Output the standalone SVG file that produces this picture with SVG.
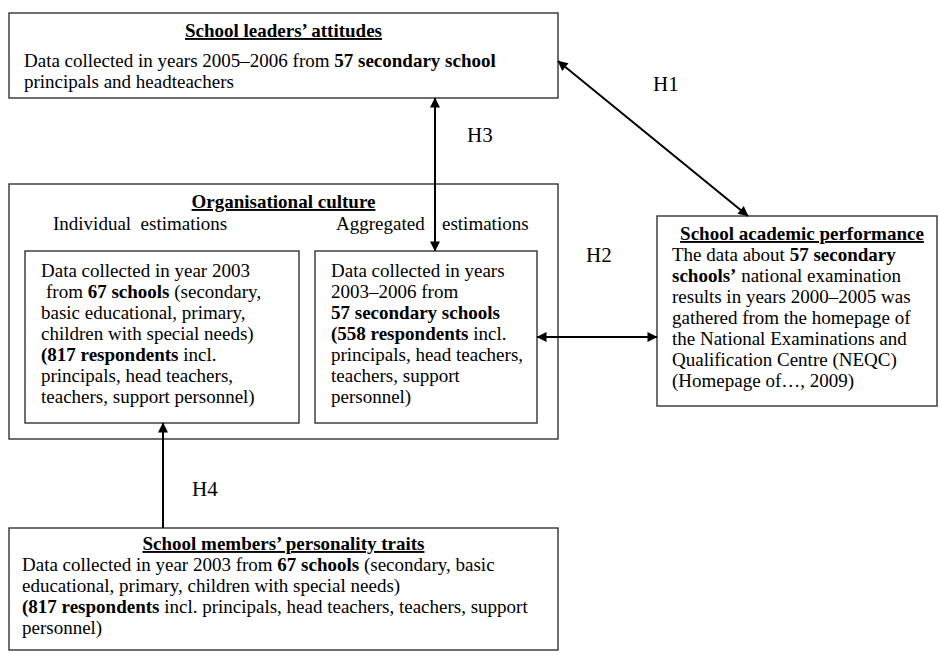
<svg xmlns="http://www.w3.org/2000/svg" width="938" height="655" viewBox="0 0 938 655">
  <style>
    .box { fill: #ffffff; stroke: #333333; stroke-width: 1.4; }
    .t { font-family: "Liberation Serif", "Times New Roman", serif; font-size: 19px; fill: #000000; }
    .ttl { font-weight: bold; text-decoration: underline; text-anchor: middle; }
    .b { font-weight: bold; }
    .h { font-family: "Liberation Serif", "Times New Roman", serif; font-size: 21px; fill: #000000; }
    .link { stroke: #000000; stroke-width: 2; fill: none; }
  </style>
  <defs>
    <marker id="ah" viewBox="0 0 10 10" refX="9.5" refY="5" markerWidth="11" markerHeight="10" orient="auto-start-reverse" markerUnits="userSpaceOnUse">
      <path d="M0,0 L10,5 L0,10 z" fill="#000000"/>
    </marker>
  </defs>

  <rect width="938" height="655" fill="#ffffff"/>

  <!-- School leaders' attitudes -->
  <g id="leaders">
    <rect class="box" x="9" y="13" width="549" height="85"/>
    <text class="t ttl" x="283.5" y="37">School leaders’ attitudes</text>
    <text class="t" x="24" y="67">Data collected in years 2005–2006 from <tspan class="b">57 secondary school</tspan></text>
    <text class="t" x="24" y="88">principals and headteachers</text>
  </g>

  <!-- Organisational culture (container) -->
  <g id="culture">
    <rect class="box" x="9" y="184" width="549" height="255"/>
    <text class="t ttl" x="283.5" y="208">Organisational culture</text>
    <text class="t" x="53" y="230" xml:space="preserve">Individual  estimations</text>
    <text class="t" x="336" y="230">Aggregated</text>
    <text class="t" x="442" y="230">estimations</text>
  </g>

  <!-- Individual estimations -->
  <g id="individual">
    <rect class="box" x="25" y="251" width="274" height="172"/>
    <text class="t" x="41" y="277">Data collected in year 2003</text>
    <text class="t" x="46" y="298">from <tspan class="b">67 schools</tspan> (secondary,</text>
    <text class="t" x="41" y="319">basic educational, primary,</text>
    <text class="t" x="41" y="340">children with special needs)</text>
    <text class="t" x="41" y="361"><tspan class="b">(817 respondents</tspan> incl.</text>
    <text class="t" x="41" y="382">principals, head teachers,</text>
    <text class="t" x="41" y="403">teachers, support personnel)</text>
  </g>

  <!-- Aggregated estimations -->
  <g id="aggregated">
    <rect class="box" x="315" y="251" width="222" height="172"/>
    <text class="t" x="331" y="277">Data collected in years</text>
    <text class="t" x="331" y="298">2003–2006 from</text>
    <text class="t b" x="331" y="319">57 secondary schools</text>
    <text class="t" x="331" y="340"><tspan class="b">(558 respondents</tspan> incl.</text>
    <text class="t" x="331" y="361">principals, head teachers,</text>
    <text class="t" x="331" y="382">teachers, support</text>
    <text class="t" x="331" y="403">personnel)</text>
  </g>

  <!-- School academic performance -->
  <g id="performance">
    <rect class="box" x="657" y="216" width="280" height="190"/>
    <text class="t ttl" x="802" y="240">School academic performance</text>
    <text class="t" x="672" y="261">The data about <tspan class="b">57 secondary</tspan></text>
    <text class="t" x="672" y="282"><tspan class="b">schools’</tspan> national examination</text>
    <text class="t" x="672" y="303">results in years 2000–2005 was</text>
    <text class="t" x="672" y="324">gathered from the homepage of</text>
    <text class="t" x="672" y="345">the National Examinations and</text>
    <text class="t" x="672" y="366">Qualification Centre (NEQC)</text>
    <text class="t" x="672" y="387">(Homepage of…, 2009)</text>
  </g>

  <!-- School members' personality traits -->
  <g id="personality">
    <rect class="box" x="9" y="528" width="549" height="122"/>
    <text class="t ttl" x="283.5" y="550">School members’ personality traits</text>
    <text class="t" x="22" y="571">Data collected in year 2003 from <tspan class="b">67 schools</tspan> (secondary, basic</text>
    <text class="t" x="22" y="592">educational, primary, children with special needs)</text>
    <text class="t" x="22" y="613"><tspan class="b">(817 respondents</tspan> incl. principals, head teachers, teachers, support</text>
    <text class="t" x="22" y="634">personnel)</text>
  </g>

  <!-- Hypothesised relations -->
  <g id="connectors">
    <line class="link" x1="558" y1="61" x2="748" y2="216" marker-start="url(#ah)" marker-end="url(#ah)"/>
    <line class="link" x1="435" y1="98" x2="435" y2="251" marker-start="url(#ah)" marker-end="url(#ah)"/>
    <line class="link" x1="537" y1="337" x2="657" y2="337" marker-start="url(#ah)" marker-end="url(#ah)"/>
    <line class="link" x1="163" y1="528" x2="163" y2="423" marker-end="url(#ah)"/>
    <text class="h" x="653" y="91">H1</text>
    <text class="h" x="467" y="142">H3</text>
    <text class="h" x="586" y="262">H2</text>
    <text class="h" x="192" y="496">H4</text>
  </g>
</svg>
